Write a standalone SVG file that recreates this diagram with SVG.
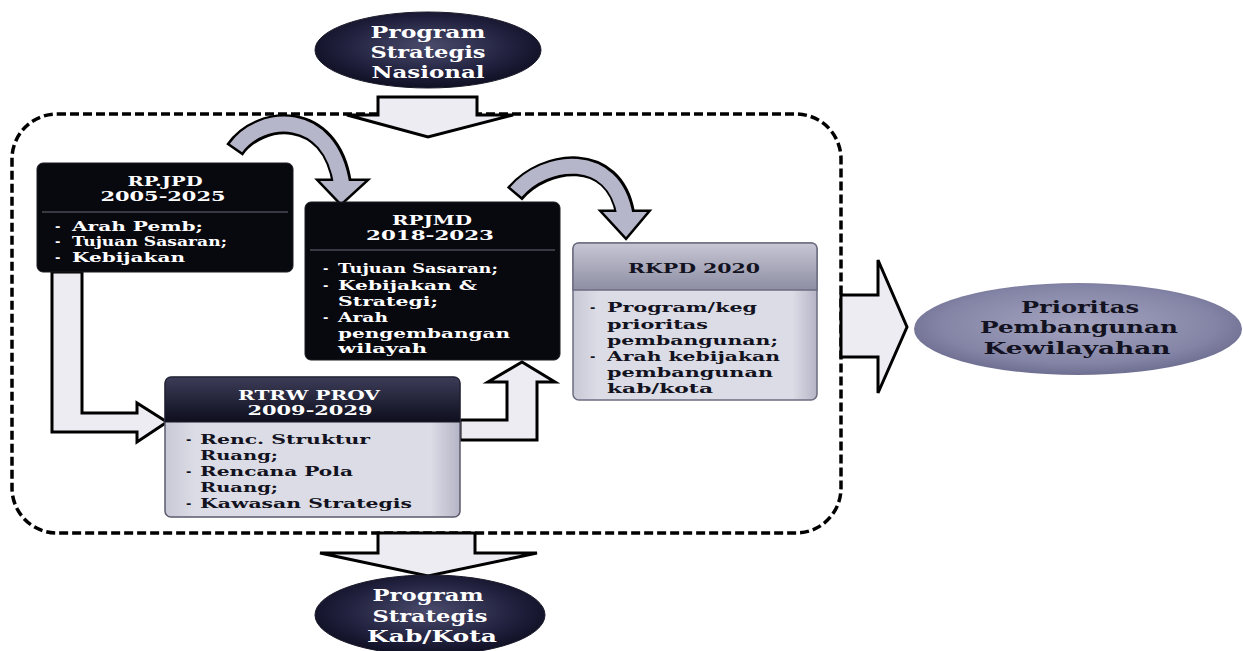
<svg xmlns="http://www.w3.org/2000/svg" width="1243" height="651" viewBox="0 0 1243 651">
<defs>
<style>
.t{font-family:"DejaVu Serif","Liberation Serif",serif;font-weight:bold;font-size:13px}
.h{font-family:"DejaVu Serif","Liberation Serif",serif;font-weight:bold;font-size:13px}
.o{font-family:"DejaVu Serif","Liberation Serif",serif;font-weight:bold;font-size:16px}
.w{fill:#ffffff}
.k{fill:#121220}
.blk{fill:#ececf2;stroke:#000;stroke-width:3;stroke-linejoin:miter}
.frame{fill:none;stroke:#000;stroke-width:3.5;stroke-dasharray:9 4}
.dark{fill:#08080f;stroke:#1a1a22;stroke-width:1}
.sep{stroke:#6a6a78;stroke-width:1}
</style>
<radialGradient id="gDark" cx="50%" cy="45%" r="60%">
<stop offset="0" stop-color="#4a4a6c"/>
<stop offset="0.6" stop-color="#222240"/>
<stop offset="1" stop-color="#0a0a1c"/>
</radialGradient>
<radialGradient id="gGray" cx="50%" cy="45%" r="60%">
<stop offset="0" stop-color="#a4a4c0"/>
<stop offset="0.7" stop-color="#8484a6"/>
<stop offset="1" stop-color="#66668a"/>
</radialGradient>
<linearGradient id="gRtrwH" x1="0" y1="0" x2="0" y2="1">
<stop offset="0" stop-color="#3c3c58"/>
<stop offset="1" stop-color="#0e0e1e"/>
</linearGradient>
<linearGradient id="gRkpdH" x1="0" y1="0" x2="0" y2="1">
<stop offset="0" stop-color="#c6c6d4"/>
<stop offset="1" stop-color="#8e8ea4"/>
</linearGradient>
<linearGradient id="gBody" x1="0" y1="0" x2="1" y2="0">
<stop offset="0" stop-color="#c8c8d6"/>
<stop offset="0.1" stop-color="#dcdce6"/>
<stop offset="0.9" stop-color="#dcdce6"/>
<stop offset="1" stop-color="#b4b4c6"/>
</linearGradient>
</defs>
<rect width="1243" height="651" fill="#ffffff"/>

<g id="frame">
<rect class="frame" x="12" y="114" width="829" height="419" rx="45" ry="45"/>
</g>

<g id="connectors">
<polygon class="blk" points="378,97 477,97 477,115 513,115 428,137 347,115 378,115"/>
<polygon class="blk" points="378,533 475,533 475,553 537,553 428,576 320,553 378,553"/>
<polygon class="blk" points="841,295 878,295 878,260 907,327 878,393 878,357 841,357"/>
<polygon class="blk" points="52,272 52,432 137,432 137,442 167,422 137,403 137,413 82,413 82,272"/>
<polygon class="blk" points="460,440 537,440 537,382 555,382 522,362 488,382 507,382 507,420 460,420"/>
<path d="M 234.5 150 C 259 114, 331 108, 342 184" fill="none" stroke="#000" stroke-width="20"/>
<polygon points="320,181 365,181 341,203" fill="#000" stroke="#000" stroke-width="5" stroke-linejoin="miter"/>
<path d="M 236 148 C 260 114, 331 108, 342 186" fill="none" stroke="#b6b6ca" stroke-width="15"/>
<polygon points="320,181 365,181 341,203" fill="#b6b6ca"/>
<path d="M 514.5 194 C 545 158, 614 150, 625 213" fill="none" stroke="#000" stroke-width="20"/>
<polygon points="603,212 647,212 626,237" fill="#000" stroke="#000" stroke-width="5" stroke-linejoin="miter"/>
<path d="M 516 192 C 545 158, 614 150, 625 215" fill="none" stroke="#b6b6ca" stroke-width="15"/>
<polygon points="603,212 647,212 626,237" fill="#b6b6ca"/>
</g>

<g id="node-psn">
<ellipse cx="428" cy="50" rx="113" ry="38" fill="url(#gDark)" stroke="#1a1a2a" stroke-width="1"/>
<text class="o w" x="428" y="38" text-anchor="middle" textLength="115" lengthAdjust="spacingAndGlyphs">Program</text>
<text class="o w" x="428" y="58" text-anchor="middle" textLength="115" lengthAdjust="spacingAndGlyphs">Strategis</text>
<text class="o w" x="428" y="78" text-anchor="middle" textLength="113" lengthAdjust="spacingAndGlyphs">Nasional</text>
</g>

<g id="node-rpjpd">
<rect class="dark" x="37" y="163" width="256" height="109" rx="6"/>
<line class="sep" x1="42" y1="212" x2="288" y2="212"/>
<text class="h w" x="165" y="186" text-anchor="middle" textLength="75" lengthAdjust="spacingAndGlyphs">RP.JPD</text>
<text class="h w" x="163" y="201" text-anchor="middle" textLength="125" lengthAdjust="spacingAndGlyphs">2005-2025</text>
<text class="t w" x="55" y="231">-</text>
<text class="t w" x="72" y="231" textLength="131" lengthAdjust="spacingAndGlyphs">Arah Pemb;</text>
<text class="t w" x="55" y="246">-</text>
<text class="t w" x="72" y="246" textLength="155" lengthAdjust="spacingAndGlyphs">Tujuan Sasaran;</text>
<text class="t w" x="55" y="262">-</text>
<text class="t w" x="72" y="262" textLength="113" lengthAdjust="spacingAndGlyphs">Kebijakan</text>
</g>

<g id="node-rpjmd">
<rect class="dark" x="305" y="202" width="255" height="158" rx="6"/>
<line class="sep" x1="310" y1="250" x2="555" y2="250"/>
<text class="h w" x="432" y="225" text-anchor="middle" textLength="80" lengthAdjust="spacingAndGlyphs">RPJMD</text>
<text class="h w" x="430" y="240" text-anchor="middle" textLength="128" lengthAdjust="spacingAndGlyphs">2018-2023</text>
<text class="t w" x="323" y="273">-</text>
<text class="t w" x="338" y="273" textLength="160" lengthAdjust="spacingAndGlyphs">Tujuan Sasaran;</text>
<text class="t w" x="323" y="290">-</text>
<text class="t w" x="338" y="290" textLength="139" lengthAdjust="spacingAndGlyphs">Kebijakan &amp;</text>
<text class="t w" x="338" y="306" textLength="100" lengthAdjust="spacingAndGlyphs">Strategi;</text>
<text class="t w" x="323" y="322">-</text>
<text class="t w" x="338" y="322" textLength="50" lengthAdjust="spacingAndGlyphs">Arah</text>
<text class="t w" x="338" y="338" textLength="172" lengthAdjust="spacingAndGlyphs">pengembangan</text>
<text class="t w" x="338" y="353" textLength="89" lengthAdjust="spacingAndGlyphs">wilayah</text>
</g>

<g id="node-rkpd">
<rect x="573" y="243" width="244" height="157" rx="6" fill="url(#gBody)" stroke="#6c6c80" stroke-width="1.5"/>
<path d="M 573 290 L 573 249 Q 573 243 579 243 L 811 243 Q 817 243 817 249 L 817 290 Z" fill="url(#gRkpdH)" stroke="#6c6c80" stroke-width="1.5"/>
<text class="h k" x="694" y="273" text-anchor="middle" textLength="132" lengthAdjust="spacingAndGlyphs">RKPD 2020</text>
<text class="t k" x="590" y="312">-</text>
<text class="t k" x="607" y="312" textLength="150" lengthAdjust="spacingAndGlyphs">Program/keg</text>
<text class="t k" x="607" y="329" textLength="101" lengthAdjust="spacingAndGlyphs">prioritas</text>
<text class="t k" x="607" y="345" textLength="171" lengthAdjust="spacingAndGlyphs">pembangunan;</text>
<text class="t k" x="590" y="361">-</text>
<text class="t k" x="607" y="361" textLength="173" lengthAdjust="spacingAndGlyphs">Arah kebijakan</text>
<text class="t k" x="607" y="377" textLength="166" lengthAdjust="spacingAndGlyphs">pembangunan</text>
<text class="t k" x="607" y="393" textLength="106" lengthAdjust="spacingAndGlyphs">kab/kota</text>
</g>

<g id="node-rtrw">
<rect x="165" y="377" width="295" height="140" rx="6" fill="url(#gBody)" stroke="#5a5a6c" stroke-width="1.5"/>
<path d="M 165 422 L 165 384 Q 165 377 172 377 L 453 377 Q 460 377 460 384 L 460 422 Z" fill="url(#gRtrwH)" stroke="#1a1a28" stroke-width="1"/>
<text class="h w" x="309" y="400" text-anchor="middle" textLength="142" lengthAdjust="spacingAndGlyphs">RTRW PROV</text>
<text class="h w" x="310" y="415" text-anchor="middle" textLength="125" lengthAdjust="spacingAndGlyphs">2009-2029</text>
<text class="t k" x="186" y="444">-</text>
<text class="t k" x="200" y="444" textLength="170" lengthAdjust="spacingAndGlyphs">Renc. Struktur</text>
<text class="t k" x="200" y="460" textLength="78" lengthAdjust="spacingAndGlyphs">Ruang;</text>
<text class="t k" x="186" y="476">-</text>
<text class="t k" x="200" y="476" textLength="153" lengthAdjust="spacingAndGlyphs">Rencana Pola</text>
<text class="t k" x="200" y="492" textLength="78" lengthAdjust="spacingAndGlyphs">Ruang;</text>
<text class="t k" x="186" y="508">-</text>
<text class="t k" x="200" y="508" textLength="212" lengthAdjust="spacingAndGlyphs">Kawasan Strategis</text>
</g>

<g id="node-prioritas">
<ellipse cx="1078" cy="329" rx="164" ry="46" fill="url(#gGray)"/>
<text class="o k" x="1080" y="313" text-anchor="middle" textLength="118" lengthAdjust="spacingAndGlyphs">Prioritas</text>
<text class="o k" x="1079" y="333" text-anchor="middle" textLength="198" lengthAdjust="spacingAndGlyphs">Pembangunan</text>
<text class="o k" x="1077" y="354" text-anchor="middle" textLength="187" lengthAdjust="spacingAndGlyphs">Kewilayahan</text>
</g>

<g id="node-psk">
<ellipse cx="430" cy="615" rx="115" ry="40" fill="url(#gDark)" stroke="#1a1a2a" stroke-width="1"/>
<text class="o w" x="428" y="601" text-anchor="middle" textLength="111" lengthAdjust="spacingAndGlyphs">Program</text>
<text class="o w" x="430" y="622" text-anchor="middle" textLength="115" lengthAdjust="spacingAndGlyphs">Strategis</text>
<text class="o w" x="432" y="642" text-anchor="middle" textLength="130" lengthAdjust="spacingAndGlyphs">Kab/Kota</text>
</g>
</svg>
